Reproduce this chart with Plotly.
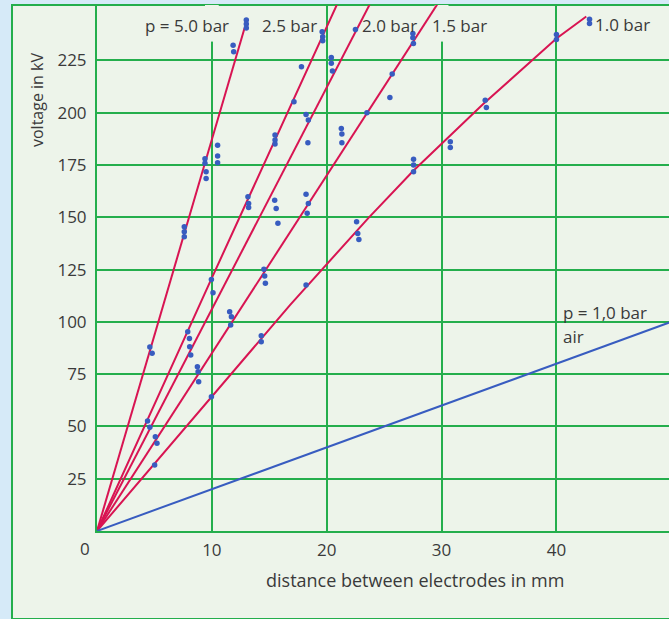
import plotly.graph_objects as go

# ---- data ----
# fitted breakdown curves (distance mm, voltage kV)
p50_x = [0, 5, 10, 12.85]
p50_y = [0, 94, 188, 240.5]
p25_x = [0, 10, 21.0]
p25_y = [0, 121, 253]
p20_x = [0, 10, 24.0]
p20_y = [0, 106, 254.5]
p15_x = [0, 10, 30.0]
p15_y = [0, 85, 255]
p10_x = [0, 10, 16.8, 23.6, 27.5, 33.6, 40, 42.6]
p10_y = [0, 64.5, 108, 149.5, 172, 204, 235.5, 246]
air_x = [0, 50]
air_y = [0, 100]

# measured points
m50_x = [4.6, 4.8, 7.6, 7.6, 7.6, 9.4, 9.4, 9.5, 9.5, 10.5, 10.5, 10.5, 11.85, 11.9, 13.0, 13.0, 13.0]
m50_y = [88, 85, 145.5, 143.1, 140.7, 178, 175.8, 171.8, 168.6, 184.5, 179.3, 176.1, 232.3, 229.1, 244.3, 242.4, 240.5]
m25_x = [4.4, 4.6, 7.9, 8.05, 9.96, 10.1, 13.14, 13.2, 13.2, 15.5, 15.5, 15.5, 17.15, 17.8, 19.6, 19.65, 19.65]
m25_y = [52.6, 49.6, 95.3, 92.1, 120.3, 113.9, 159.8, 156.6, 154.7, 189.3, 186.9, 185.0, 205.2, 222.0, 238.7, 236.3, 234.4]
m20_x = [8.07, 8.16, 15.47, 15.6, 15.75, 18.2, 18.4, 18.36, 20.4, 20.4, 20.5, 22.5]
m20_y = [88.1, 84.1, 158.2, 154.2, 147.1, 199.2, 196.5, 185.6, 226.4, 223.6, 219.9, 239.8]
m15_x = [5.08, 5.22, 8.74, 8.8, 8.85, 11.55, 11.7, 11.64, 14.53, 14.6, 14.66, 18.2, 18.4, 18.3,
         21.27, 21.32, 21.32, 23.5, 25.7, 25.5, 27.5, 27.5, 27.55]
m15_y = [45.1, 41.9, 78.5, 76.1, 71.4, 104.8, 102.4, 98.5, 125.1, 121.9, 118.4, 161, 156.6, 151.9,
         192.5, 189.8, 185.6, 200.0, 218.5, 207.3, 237.9, 235.8, 233.1]
m10_x = [5.02, 9.96, 14.3, 14.3, 18.2, 22.6, 22.7, 22.8, 27.56, 27.56, 27.56, 30.76, 30.76,
         33.8, 33.9, 40.0, 40.0, 42.88, 42.88]
m10_y = [31.5, 64.2, 93.4, 90.5, 117.6, 147.9, 142.3, 139.4, 177.7, 175.0, 171.8, 186.1, 183.4,
         206.0, 202.5, 237.4, 235.0, 244.7, 242.7]

x_ticks = [10, 20, 30, 40]
y_ticks = [25, 50, 75, 100, 125, 150, 175, 200, 225]
curve_labels = ["p = 5.0 bar", "2.5 bar", "2.0 bar", "1.5 bar", "1.0 bar"]

# ---- style ----
RED = "rgb(216,20,82)"
BLUE = "rgb(56,92,192)"
GREEN = "rgb(36,174,76)"
BG = "rgb(237,244,234)"
OUTER = "rgb(214,234,248)"
TXT = "#3a3a3a"
FONT = "Open Sans"

W, H = 669, 619
L, R, T, B = 97, 0, 5, 88
PW, PH = W - L - R, H - T - B


def pp(px, py):
    return (px - L) / PW, (H - B - py) / PH


fig = go.Figure()
for xs, ys in [(p50_x, p50_y), (p25_x, p25_y), (p20_x, p20_y), (p15_x, p15_y), (p10_x, p10_y)]:
    fig.add_trace(go.Scatter(x=xs, y=ys, mode="lines", line=dict(color=RED, width=2),
                             hoverinfo="skip", showlegend=False, cliponaxis=True))
fig.add_trace(go.Scatter(x=air_x, y=air_y, mode="lines", line=dict(color=BLUE, width=2),
                         showlegend=False))
for xs, ys in [(m50_x, m50_y), (m25_x, m25_y), (m20_x, m20_y), (m15_x, m15_y), (m10_x, m10_y)]:
    fig.add_trace(go.Scatter(x=xs, y=ys, mode="markers", marker=dict(color=BLUE, size=5.5),
                             showlegend=False, cliponaxis=False))

x0, y0 = pp(12, 619)
x1, y1 = pp(700, 5)
shapes = [
    dict(type="rect", xref="paper", yref="paper", x0=x0, y0=y0, x1=x1, y1=y1,
         fillcolor=BG, line=dict(color=GREEN, width=2), layer="below"),
    dict(type="rect", xref="x", yref="y", x0=9.4, x1=10.6, y0=234, y1=253,
         fillcolor=BG, line=dict(width=0), layer="between"),
    dict(type="rect", xref="x", yref="y", x0=29.4, x1=30.6, y0=234, y1=253,
         fillcolor=BG, line=dict(width=0), layer="between"),
]

ann = []
label_pos = [(187, 26), (289, 26), (390, 26), (459, 26), (622, 25)]
for txt, (px, py) in zip(curve_labels, label_pos):
    ax, ay = pp(px, py)
    ann.append(dict(text=txt, x=ax, y=ay, xref="paper", yref="paper", showarrow=False,
                    xanchor="center", yanchor="middle", font=dict(size=17, color=TXT, family=FONT)))
for txt, (px, py) in [("p = 1,0 bar", (561, 312)), ("air", (561, 336))]:
    ax, ay = pp(px, py)
    ann.append(dict(text=txt, x=ax, y=ay, xref="paper", yref="paper", showarrow=False,
                    xanchor="left", yanchor="middle", font=dict(size=17, color=TXT, family=FONT)))
ax, ay = pp(85, 548)
ann.append(dict(text="0", x=ax, y=ay, xref="paper", yref="paper", showarrow=False,
                xanchor="center", yanchor="middle", font=dict(size=17, color=TXT, family=FONT)))
ax, ay = pp(415, 580)
ann.append(dict(text="distance between electrodes in mm", x=ax, y=ay, xref="paper", yref="paper",
                showarrow=False, xanchor="center", yanchor="middle",
                font=dict(size=18, color=TXT, family=FONT)))
ax, ay = pp(37, 100)
ann.append(dict(text="voltage in kV", x=ax, y=ay, xref="paper", yref="paper", textangle=-90,
                showarrow=False, xanchor="center", yanchor="middle",
                font=dict(size=16, color=TXT, family=FONT)))

fig.update_layout(
    width=W, height=H, margin=dict(l=L, r=R, t=T, b=B),
    paper_bgcolor=OUTER, plot_bgcolor=BG,
    shapes=shapes, annotations=ann, showlegend=False,
    font=dict(family=FONT, size=17, color=TXT),
)
fig.update_xaxes(range=[0, 49.8], tickvals=x_ticks, showgrid=True, gridcolor=GREEN, gridwidth=2,
                 showline=True, linecolor=GREEN, linewidth=2, zeroline=False,
                 ticks="", ticklabelstandoff=3, tickfont=dict(size=17, color=TXT, family=FONT))
fig.update_yaxes(range=[0, 251.5], tickvals=y_ticks, showgrid=True, gridcolor=GREEN, gridwidth=2,
                 showline=True, linecolor=GREEN, linewidth=2, zeroline=False,
                 ticks="", ticklabelstandoff=5, tickfont=dict(size=17, color=TXT, family=FONT))

fig.write_html("out.html")
